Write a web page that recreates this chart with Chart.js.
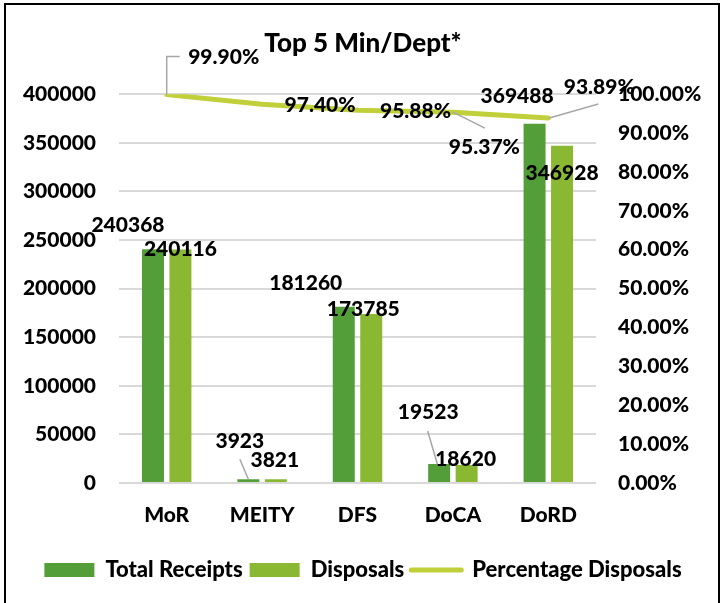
<!DOCTYPE html>
<html><head><meta charset="utf-8">
<script src="https://cdn.jsdelivr.net/npm/chart.js@4.4.1/dist/chart.umd.min.js"></script>
<style>
html,body{margin:0;padding:0;background:#fff;width:726px;height:603px;overflow:hidden}
#frame{position:absolute;left:4px;top:3px;width:712px;height:700px;border:2px solid #000;border-bottom:none}
canvas{position:absolute;left:0;top:0}
</style></head><body>
<div id="frame"></div>
<canvas id="c" width="726" height="603"></canvas>
<script>
// ---- data ----
const categories = ['MoR', 'MEITY', 'DFS', 'DoCA', 'DoRD'];
const totalReceipts = [240368, 3923, 181260, 19523, 369488];
const disposals = [240116, 3821, 173785, 18620, 346928];
const percentageDisposals = [99.90, 97.40, 95.88, 95.37, 93.89];
const leftTickValues = [0, 50000, 100000, 150000, 200000, 250000, 300000, 350000, 400000];
const rightTickValues = [0, 10, 20, 30, 40, 50, 60, 70, 80, 90, 100];
const chartTitle = 'Top 5 Min/Dept*';

// ---- label placement (style only: offsets from the drawn element) ----
const labelOffsets = [
  [ {dx:-25, dy:-24}, {dx:-8.5, dy:-38, lead:[[-8.5,-20],[0,0]]}, {dx:-38, dy:-24},
    {dx:-11, dy:-52, lead:[[-11.5,-33],[-1.5,1]]}, {dx:-17.5, dy:-28} ],
  [ {dx:0, dy:0}, {dx:-1, dy:-19}, {dx:-8, dy:-5}, {dx:-1, dy:-6}, {dx:0, dy:27} ],
  [ {dx:57, dy:-37, lead:[[0,0],[0,-38],[13,-38]]}, {dx:58, dy:1}, {dx:58, dy:1},
    {dx:31.5, dy:35, lead:[[0,0],[32,16]]}, {dx:51, dy:-31, lead:[[1,0],[50,-14]]} ]
];

const FONT = 'Lato';
const W = '900';
const FS = 21;
const labelPlugin = {
  id: 'valueLabels',
  afterDatasetsDraw(chart) {
    const ctx = chart.ctx;
    ctx.save();
    ctx.font = W + ' ' + FS + 'px ' + FONT;
    ctx.fillStyle = '#000';
    ctx.textAlign = 'center';
    ctx.textBaseline = 'middle';
    chart.data.datasets.forEach((ds, di) => {
      const meta = chart.getDatasetMeta(di);
      meta.data.forEach((el, i) => {
        const o = labelOffsets[di][i];
        if (o.lead) {
          ctx.beginPath();
          ctx.strokeStyle = '#a6a6a6';
          ctx.lineWidth = 1.5;
          o.lead.forEach((p, k) => {
            if (k === 0) ctx.moveTo(el.x + p[0], el.y + p[1]);
            else ctx.lineTo(el.x + p[0], el.y + p[1]);
          });
          ctx.stroke();
        }
        const v = ds.data[i];
        const txt = ds.yAxisID === 'yR' ? v.toFixed(2) + '%' : String(v);
        ctx.fillText(txt, el.x + o.dx, el.y + o.dy);
      });
    });
    ctx.restore();
  }
};

new Chart(document.getElementById('c'), {
  data: {
    labels: categories,
    datasets: [
      { type: 'bar', label: 'Total Receipts', data: totalReceipts, backgroundColor: '#549E39',
        yAxisID: 'yL', order: 2, barPercentage: 0.8, categoryPercentage: 0.576 },
      { type: 'bar', label: 'Disposals', data: disposals, backgroundColor: '#8AB833',
        yAxisID: 'yL', order: 2, barPercentage: 0.8, categoryPercentage: 0.576 },
      { type: 'line', label: 'Percentage Disposals', data: percentageDisposals,
        borderColor: '#C0CF3A', backgroundColor: '#C0CF3A', borderWidth: 5,
        pointRadius: 0, tension: 0, borderCapStyle: 'round', yAxisID: 'yR', order: 1 }
    ]
  },
  options: {
    responsive: false,
    animation: false,
    devicePixelRatio: 1,
    layout: { padding: { top: 0, left: 0, right: 0, bottom: 12 } },
    plugins: {
      title: { display: true, text: chartTitle, color: '#000',
        font: { family: FONT, size: 26, weight: W }, padding: { top: 28, bottom: 35 } },
      legend: {
        position: 'bottom',
        labels: {
          color: '#000', font: { family: FONT, size: 22, weight: W },
          usePointStyle: true, pointStyleWidth: 50, boxHeight: 14, padding: 7,
          sort: (a, b) => a.datasetIndex - b.datasetIndex,
          generateLabels(chart) {
            return chart.data.datasets.map((ds, i) => ({
              text: ds.label, datasetIndex: i,
              fillStyle: ds.backgroundColor, strokeStyle: ds.type === 'line' ? ds.borderColor : ds.backgroundColor,
              lineWidth: ds.type === 'line' ? 5 : 0,
              pointStyle: ds.type === 'line' ? 'line' : 'rect', lineCap: 'round',
              fontColor: '#000', hidden: false
            }));
          }
        }
      },
      tooltip: { enabled: false }
    },
    scales: {
      x: {
        grid: { display: false }, border: { display: false },
        ticks: { color: '#000', font: { family: FONT, size: FS, weight: W }, padding: 12 },
        afterFit(s) { s.height = 69; }
      },
      yL: {
        position: 'left', min: 0, max: 400000,
        afterBuildTicks(s) { s.ticks = leftTickValues.map(v => ({ value: v })); },
        grid: { color: '#d9d9d9', lineWidth: 2, drawTicks: false }, border: { display: false },
        ticks: { color: '#000', font: { family: FONT, size: FS, weight: W }, padding: 23,
          callback: v => String(v) },
        afterFit(s) { s.width = 119; }
      },
      yR: {
        position: 'right', min: 0, max: 100,
        afterBuildTicks(s) { s.ticks = rightTickValues.map(v => ({ value: v })); },
        grid: { display: false, drawTicks: false }, border: { display: false },
        ticks: { color: '#000', font: { family: FONT, size: FS, weight: W }, padding: 22,
          callback: v => Number(v).toFixed(2) + '%' },
        afterFit(s) { s.width = 130; }
      }
    }
  },
  plugins: [labelPlugin]
});
</script>
</body></html>
